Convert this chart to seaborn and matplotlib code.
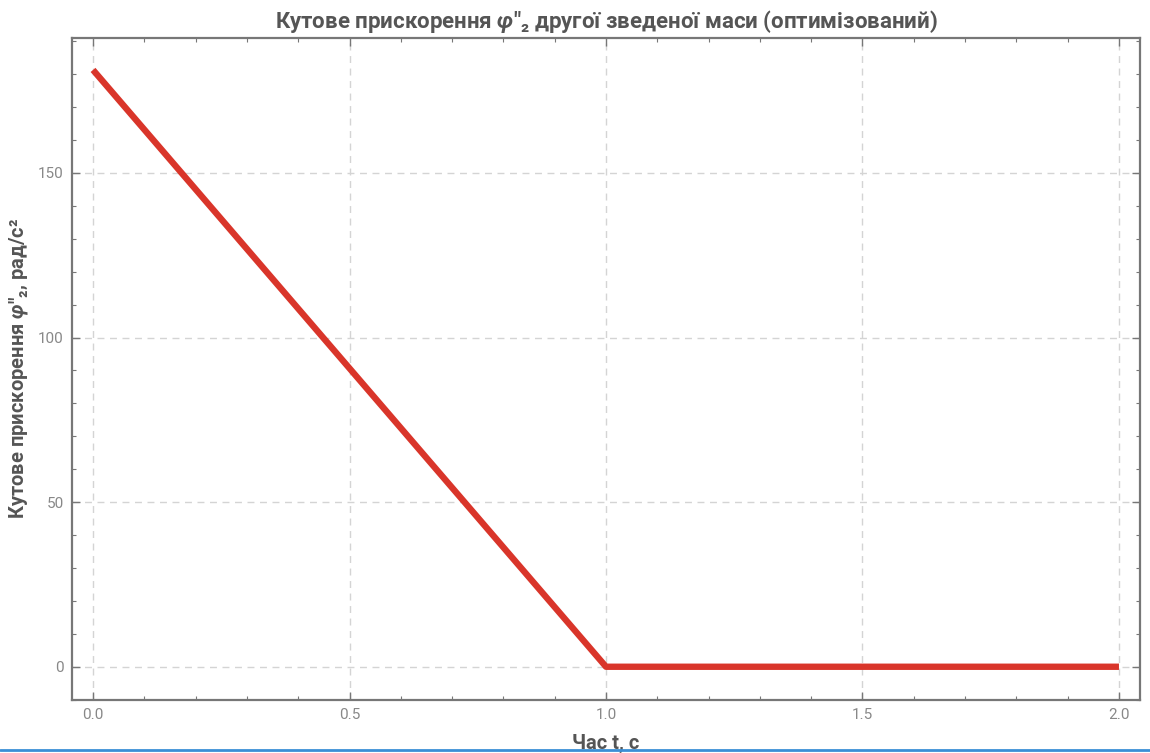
import matplotlib
matplotlib.use("Agg")
import matplotlib.pyplot as plt
from matplotlib.ticker import MultipleLocator
import seaborn as sns
import pandas as pd

# Angular acceleration of the second reduced mass (optimised law)
time_s = [0.0, 1.0, 2.0]
accel = [181.3, 0.0, 0.0]

x_ticks = [0.0, 0.5, 1.0, 1.5, 2.0]
x_tick_labels = ["0.0", "0.5", "1.0", "1.5", "2.0"]
y_ticks = [0, 50, 100, 150]
y_tick_labels = ["0", "50", "100", "150"]

title = "Кутове прискорення $\\mathit{φ}$\u2033\u2082 другої зведеної маси (оптимізований)"
xlabel = "Час t, с"
ylabel = "Кутове прискорення $\\mathit{φ}$\u2033\u2082, рад/с²"

sns.set_theme(style="white")
plt.rcParams["font.family"] = ["Roboto", "DejaVu Sans"]
plt.rcParams["mathtext.fontset"] = "custom"
plt.rcParams["mathtext.rm"] = "Roboto:bold"
plt.rcParams["mathtext.it"] = "Roboto:italic:bold"
plt.rcParams["mathtext.bf"] = "Roboto:bold"

df = pd.DataFrame({"t": time_s, "a": accel})

fig = plt.figure(figsize=(11.5, 7.53), dpi=100)
ax = fig.add_axes([72 / 1150, 1 - 700 / 753, (1140 - 72) / 1150, (700 - 38) / 753])

sns.lineplot(data=df, x="t", y="a", ax=ax, color="#d9352a", linewidth=4.6,
             solid_capstyle="butt", zorder=3)

ax.set_xlim(-0.041, 2.041)
ax.set_ylim(-10.1, 191.0)

ax.set_xticks(x_ticks)
ax.set_xticklabels(x_tick_labels)
ax.set_yticks(y_ticks)
ax.set_yticklabels(y_tick_labels)
ax.xaxis.set_minor_locator(MultipleLocator(0.1))
ax.yaxis.set_minor_locator(MultipleLocator(10))

ax.grid(True, which="major", linestyle=(0, (5, 4)), color="#d4d4d4", linewidth=1.0)
ax.set_axisbelow(True)

ax.tick_params(which="both", direction="in", top=True, right=True,
               bottom=True, left=True, color="#777777", labelcolor="#888888",
               labelsize=11)
ax.tick_params(which="major", length=6, width=1.0, pad=6)
ax.tick_params(which="minor", length=3, width=0.8)
for side in ax.spines.values():
    side.set_color("#777777")
    side.set_linewidth(1.6)

ax.set_xlabel(xlabel, fontsize=14.5, fontweight="bold", color="#555555", labelpad=8)
ax.set_ylabel(ylabel, fontsize=14.5, fontweight="bold", color="#555555")
ax.set_title(title, fontsize=16, fontweight="bold", color="#555555", pad=7)
ax.yaxis.set_label_coords(-(72 - 30) / 1068, 0.5)

# thin blue rule across the bottom edge
fig.add_artist(plt.Line2D([0, 1], [1 - 750 / 753, 1 - 750 / 753],
                          color="#3a8fd6", linewidth=2.0, transform=fig.transFigure))

fig.savefig("out.png", dpi=100)
